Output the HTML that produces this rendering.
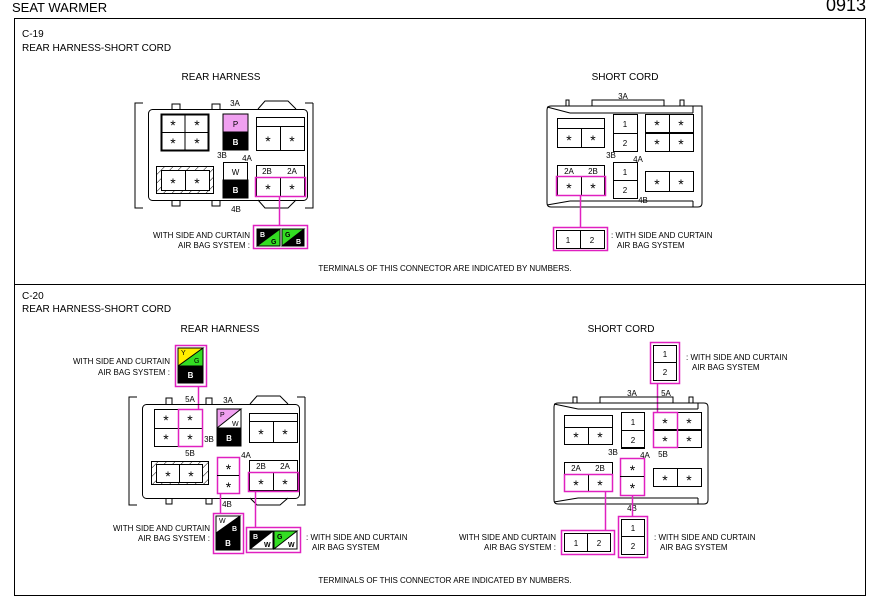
<!DOCTYPE html>
<html><head><meta charset="utf-8"><style>
html,body{margin:0;padding:0;background:#fff;}
svg{display:block;font-family:"Liberation Sans",sans-serif;fill:none;stroke:#000;stroke-width:1;}
text{fill:#000;stroke:none;}
.s{font-size:8px;}
.t{font-size:10px;}
.a{font-size:14px;text-anchor:middle;}
.c{text-anchor:middle;}
.e{text-anchor:end;}
.pk{stroke:#e020c0;stroke-width:1.5;fill:none;}
.bk{fill:#000;}
text.wt{fill:#fff;font-weight:bold;}
</style></head><body>
<svg width="874" height="598" viewBox="0 0 874 598" xmlns="http://www.w3.org/2000/svg">
<defs><pattern id="h" width="6" height="6" patternUnits="userSpaceOnUse" patternTransform="rotate(45)"><line x1="0" y1="0" x2="0" y2="6" stroke="#000" stroke-width="1"/></pattern></defs>
<text x="12" y="12" style="font-size:13px">SEAT WARMER</text>
<text x="866" y="11" style="font-size:18px" class="e">0913</text>
<rect x="14.5" y="18.5" width="851" height="577"/>
<line x1="14" y1="284.5" x2="866" y2="284.5"/>

<!-- C-19 -->
<text x="22" y="37" class="t">C-19</text>
<text x="22" y="51" class="t">REAR HARNESS-SHORT CORD</text>
<text x="221" y="80" class="t c">REAR HARNESS</text>
<text x="625" y="80" class="t c">SHORT CORD</text>

<polyline points="143,103 135,103 135,208 143,208"/>
<polyline points="313,103 305,103"/><polyline points="305,208 313,208 313,103"/>
<polyline points="172,109 172,104 180,104 180,109"/><polyline points="212,109 212,104 220,104 220,109"/>
<polyline points="258,109 265,101 288,101 296,109"/>
<polyline points="172,200 172,206 180,206 180,200"/><polyline points="212,200 212,206 220,206 220,200"/>
<polyline points="258,200 265,208 288,208 296,200"/>
<rect x="148.5" y="109.5" width="159" height="91" rx="4"/>
<rect x="161.5" y="114.5" width="47" height="36" stroke-width="2"/><line x1="185" y1="115" x2="185" y2="150"/><line x1="162" y1="132.5" x2="208" y2="132.5"/>
<text x="173" y="130" class="a">*</text><text x="197" y="130" class="a">*</text><text x="173" y="148" class="a">*</text><text x="197" y="148" class="a">*</text>
<rect x="223" y="114" width="25" height="18" fill="#f0a0f0" stroke="#000"/><rect x="223" y="132" width="25" height="18" class="bk"/>
<text x="235.5" y="127" class="s c">P</text><text x="235.5" y="145" class="s c wt">B</text>
<rect x="256.5" y="117.5" width="48" height="33"/><line x1="256" y1="126.5" x2="304" y2="126.5"/><line x1="280.5" y1="126" x2="280.5" y2="150"/>
<text x="268" y="146" class="a">*</text><text x="292" y="146" class="a">*</text>
<rect x="156.5" y="166.5" width="57" height="27" fill="url(#h)"/>
<rect x="161.5" y="170.5" width="48" height="20" fill="#fff"/><line x1="185.5" y1="170" x2="185.5" y2="190"/>
<text x="173" y="188" class="a">*</text><text x="197" y="188" class="a">*</text>
<rect x="223.5" y="162.5" width="24" height="18"/><rect x="223" y="180" width="25" height="18" class="bk"/>
<text x="235.5" y="175" class="s c">W</text><text x="235.5" y="193" class="s c wt">B</text>
<rect x="256.5" y="165.5" width="48" height="31"/><line x1="256" y1="177.5" x2="304" y2="177.5"/><line x1="280.5" y1="177" x2="280.5" y2="196"/>
<text x="267" y="174" class="s c">2B</text><text x="292" y="174" class="s c">2A</text>
<text x="268" y="194" class="a">*</text><text x="292" y="194" class="a">*</text>
<rect x="255.5" y="177.5" width="50" height="19" class="pk"/>
<text x="235" y="106" class="s c">3A</text><text x="222" y="158" class="s c">3B</text><text x="247" y="161" class="s c">4A</text><text x="236" y="212" class="s c">4B</text>
<line x1="279.5" y1="197" x2="279.5" y2="226" class="pk"/>
<rect x="253.5" y="225.5" width="54" height="23" class="pk"/>
<rect x="257" y="229" width="23" height="17" fill="#33dd22" stroke="#000"/><path d="M257,246 L257,229 L280,229 Z" fill="#000"/>
<rect x="282" y="229" width="22" height="17" fill="#000" stroke="#000"/><path d="M282,246 L282,229 L304,229 Z" fill="#33dd22"/>
<text x="260" y="237" class="s wt" style="font-size:7px">B</text><text x="271" y="244" class="s" style="font-size:7px;font-weight:bold">G</text>
<text x="285" y="237" class="s" style="font-size:7px;font-weight:bold">G</text><text x="296" y="244" class="s wt" style="font-size:7px">B</text>
<text x="250" y="238" class="s e">WITH SIDE AND CURTAIN</text><text x="250" y="248" class="s e">AIR BAG SYSTEM :</text>

<path d="M551,106 L702,106 L702,203 Q702,207 698,207 L551,207 Q547,207 547,203 L547,110 Q547,106 551,106"/>
<line x1="547" y1="107" x2="570" y2="113"/><line x1="570" y1="113" x2="693" y2="113"/><line x1="693" y1="106" x2="693" y2="113"/>
<line x1="547" y1="205" x2="570" y2="201"/><line x1="570" y1="201" x2="693" y2="201"/><line x1="693" y1="201" x2="693" y2="207"/>
<polyline points="566,106 566,100 569,100 569,106"/><polyline points="680,106 680,100 684,100 684,106"/>
<polyline points="592,106 592,100 664,100 664,106"/>
<rect x="557.5" y="118.5" width="47" height="29"/><line x1="557" y1="128.5" x2="604" y2="128.5"/><line x1="581.5" y1="128" x2="581.5" y2="147"/>
<text x="569" y="145" class="a">*</text><text x="593" y="145" class="a">*</text>
<rect x="613.5" y="114.5" width="24" height="37"/><line x1="613" y1="133.5" x2="637" y2="133.5"/>
<text x="625" y="127" class="s c">1</text><text x="625" y="146" class="s c">2</text>
<rect x="645.5" y="114.5" width="48" height="37"/><line x1="669.5" y1="114" x2="669.5" y2="151"/><line x1="645" y1="133" x2="693" y2="133" stroke-width="2"/>
<text x="657" y="130" class="a">*</text><text x="681" y="130" class="a">*</text><text x="657" y="149" class="a">*</text><text x="681" y="149" class="a">*</text>
<rect x="557.5" y="165.5" width="47" height="30"/><line x1="557" y1="176.5" x2="604" y2="176.5"/><line x1="581.5" y1="176" x2="581.5" y2="195"/>
<text x="569" y="174" class="s c">2A</text><text x="593" y="174" class="s c">2B</text>
<text x="569" y="193" class="a">*</text><text x="593" y="193" class="a">*</text>
<rect x="556.5" y="176.5" width="49" height="19" class="pk"/>
<rect x="613.5" y="162.5" width="24" height="36"/><line x1="613" y1="180.5" x2="637" y2="180.5"/>
<text x="625" y="175" class="s c">1</text><text x="625" y="193" class="s c">2</text>
<rect x="645.5" y="171.5" width="48" height="20"/><line x1="669.5" y1="171" x2="669.5" y2="191"/>
<text x="657" y="189" class="a">*</text><text x="681" y="189" class="a">*</text>
<text x="623" y="99" class="s c">3A</text><text x="611" y="158" class="s c">3B</text><text x="638" y="162" class="s c">4A</text><text x="643" y="203" class="s c">4B</text>
<line x1="580.5" y1="196" x2="580.5" y2="227" class="pk"/>
<rect x="553.5" y="227.5" width="54" height="23" class="pk"/>
<rect x="556.5" y="230.5" width="48" height="18"/><line x1="580.5" y1="230" x2="580.5" y2="248"/>
<text x="568" y="243" class="s c">1</text><text x="592" y="243" class="s c">2</text>
<text x="611" y="238" class="s">: WITH SIDE AND CURTAIN</text><text x="617" y="248" class="s">AIR BAG SYSTEM</text>
<text x="445" y="271" class="s c">TERMINALS OF THIS CONNECTOR ARE INDICATED BY NUMBERS.</text>

<!-- C-20 -->
<text x="22" y="299" class="t">C-20</text>
<text x="22" y="312" class="t">REAR HARNESS-SHORT CORD</text>
<text x="220" y="332" class="t c">REAR HARNESS</text>
<text x="621" y="332" class="t c">SHORT CORD</text>

<rect x="175.5" y="345.5" width="31" height="41" class="pk"/>
<rect x="178" y="348" width="25" height="18" fill="#33dd22" stroke="#000"/><path d="M178,366 L178,348 L203,348 Z" fill="#ffee00"/>
<rect x="178" y="366" width="25" height="17" class="bk"/>
<text x="181" y="355" class="s" style="font-size:7px">Y</text><text x="194" y="363" class="s" style="font-size:7px">G</text><text x="190.5" y="378" class="s c wt">B</text>
<text x="170" y="364" class="s e">WITH SIDE AND CURTAIN</text><text x="170" y="375" class="s e">AIR BAG SYSTEM :</text>
<line x1="198.5" y1="387" x2="198.5" y2="410" class="pk"/>
<polyline points="137,397 129,397 129,505 137,505"/>
<polyline points="305,397 305,505 297,505"/><line x1="297" y1="397" x2="305" y2="397"/>
<polyline points="166,404 166,398 172,398 172,404"/><polyline points="206,404 206,398 212,398 212,404"/>
<polyline points="250,404 257,396 280,396 288,404"/>
<polyline points="166,498 166,504 172,504 172,498"/><polyline points="206,498 206,504 212,504 212,498"/>
<polyline points="250,498 257,505 280,505 288,498"/>
<rect x="142.5" y="404.5" width="157" height="94" rx="4"/>
<rect x="154.5" y="409.5" width="48" height="37"/><line x1="178.5" y1="409" x2="178.5" y2="446"/><line x1="154" y1="428.5" x2="202" y2="428.5"/>
<text x="166" y="425" class="a">*</text><text x="190" y="425" class="a">*</text><text x="166" y="444" class="a">*</text><text x="190" y="444" class="a">*</text>
<rect x="178.5" y="409.5" width="24" height="37" class="pk"/>
<rect x="217" y="409" width="24" height="19" fill="#fff" stroke="#000"/><path d="M217,428 L217,409 L241,409 Z" fill="#f0a0f0"/>
<rect x="217" y="428" width="24" height="18" class="bk"/>
<text x="220" y="417" class="s" style="font-size:7px">P</text><text x="232" y="426" class="s" style="font-size:7px">W</text><text x="229" y="441" class="s c wt">B</text>
<rect x="249.5" y="413.5" width="48" height="29"/><line x1="249" y1="421.5" x2="297" y2="421.5"/><line x1="273.5" y1="421" x2="273.5" y2="442"/>
<text x="261" y="439" class="a">*</text><text x="285" y="439" class="a">*</text>
<rect x="151.5" y="461.5" width="57" height="23" fill="url(#h)"/>
<rect x="156.5" y="464.5" width="46" height="18" fill="#fff"/><line x1="179.5" y1="464" x2="179.5" y2="482"/>
<text x="168" y="481" class="a">*</text><text x="191" y="481" class="a">*</text>
<rect x="217.5" y="457.5" width="22" height="36" class="pk"/><line x1="217" y1="475.5" x2="239" y2="475.5"/>
<text x="228.5" y="474" class="a">*</text><text x="228.5" y="492" class="a">*</text>
<rect x="249.5" y="460.5" width="48" height="30"/><line x1="249" y1="472.5" x2="297" y2="472.5"/><line x1="273.5" y1="472" x2="273.5" y2="491"/>
<text x="261" y="469" class="s c">2B</text><text x="285" y="469" class="s c">2A</text>
<text x="261" y="489" class="a">*</text><text x="285" y="489" class="a">*</text>
<rect x="248.5" y="472.5" width="50" height="19" class="pk"/>
<text x="190" y="402" class="s c">5A</text><text x="228" y="403" class="s c">3A</text><text x="190" y="456" class="s c">5B</text><text x="209" y="442" class="s c">3B</text><text x="246" y="458" class="s c">4A</text><text x="227" y="507" class="s c">4B</text>
<line x1="220.5" y1="494" x2="220.5" y2="513" class="pk"/>
<rect x="213.5" y="513.5" width="30" height="40" class="pk"/>
<rect x="216" y="516" width="24" height="17" fill="#000" stroke="#000"/><path d="M216,533 L216,516 L240,516 Z" fill="#fff"/>
<rect x="216" y="533" width="24" height="17" class="bk"/>
<text x="219" y="523" class="s" style="font-size:7px">W</text><text x="232" y="531" class="s wt" style="font-size:7px">B</text><text x="228" y="546" class="s c wt">B</text>
<text x="210" y="531" class="s e">WITH SIDE AND CURTAIN</text><text x="210" y="541" class="s e">AIR BAG SYSTEM :</text>
<line x1="255.5" y1="492" x2="255.5" y2="527" class="pk"/>
<rect x="246.5" y="527.5" width="54" height="25" class="pk"/>
<rect x="250" y="531" width="23" height="18" fill="#fff" stroke="#000"/><path d="M250,549 L250,531 L273,531 Z" fill="#000"/>
<rect x="274" y="531" width="23" height="18" fill="#fff" stroke="#000"/><path d="M274,549 L274,531 L297,531 Z" fill="#33dd22"/>
<text x="253" y="539" class="s wt" style="font-size:7px">B</text><text x="264" y="547" class="s" style="font-size:7px;font-weight:bold">W</text>
<text x="277" y="539" class="s" style="font-size:7px;font-weight:bold">G</text><text x="288" y="547" class="s" style="font-size:7px;font-weight:bold">W</text>
<text x="306" y="540" class="s">: WITH SIDE AND CURTAIN</text><text x="312" y="550" class="s">AIR BAG SYSTEM</text>

<rect x="650.5" y="342.5" width="29" height="41" class="pk"/>
<rect x="653.5" y="345.5" width="23" height="35"/><line x1="653" y1="362.5" x2="676" y2="362.5"/>
<text x="665" y="357" class="s c">1</text><text x="665" y="375" class="s c">2</text>
<text x="686" y="360" class="s">: WITH SIDE AND CURTAIN</text><text x="692" y="370" class="s">AIR BAG SYSTEM</text>
<line x1="657.5" y1="384" x2="657.5" y2="412" class="pk"/>
<path d="M558,403 L704,403 Q708,403 708,407 L708,500 Q708,504 704,504 L558,504 Q554,504 554,500 L554,407 Q554,403 558,403"/>
<line x1="554" y1="404" x2="578" y2="409"/><line x1="578" y1="409" x2="698" y2="409"/><line x1="698" y1="403" x2="698" y2="409"/>
<line x1="554" y1="502" x2="578" y2="498"/><line x1="578" y1="498" x2="698" y2="498"/><line x1="698" y1="498" x2="698" y2="504"/>
<polyline points="573,403 573,397 577,397 577,403"/><polyline points="689,403 689,397 693,397 693,403"/>
<polyline points="600,403 600,397 673,397 673,403"/>
<rect x="564.5" y="415.5" width="48" height="29"/><line x1="564" y1="427.5" x2="612" y2="427.5"/><line x1="588.5" y1="427" x2="588.5" y2="444"/>
<text x="576" y="442" class="a">*</text><text x="600" y="442" class="a">*</text>
<rect x="621.5" y="412.5" width="23" height="36"/><line x1="621" y1="430.5" x2="644" y2="430.5"/><line x1="621" y1="448" x2="644" y2="448" stroke-width="2"/>
<text x="633" y="425" class="s c">1</text><text x="633" y="443" class="s c">2</text>
<rect x="653.5" y="412.5" width="48" height="35"/><line x1="677.5" y1="412" x2="677.5" y2="447"/><line x1="653" y1="430" x2="701" y2="430" stroke-width="2"/>
<text x="665" y="428" class="a">*</text><text x="689" y="428" class="a">*</text><text x="665" y="446" class="a">*</text><text x="689" y="446" class="a">*</text>
<rect x="653.5" y="412.5" width="24" height="35" class="pk"/>
<rect x="564.5" y="462.5" width="48" height="29"/><line x1="564" y1="474.5" x2="612" y2="474.5"/><line x1="588.5" y1="474" x2="588.5" y2="491"/>
<text x="576" y="471" class="s c">2A</text><text x="600" y="471" class="s c">2B</text>
<text x="576" y="490" class="a">*</text><text x="600" y="490" class="a">*</text>
<rect x="564.5" y="474.5" width="48" height="17" class="pk"/>
<rect x="620.5" y="458.5" width="24" height="37" class="pk"/><line x1="620" y1="476.5" x2="644" y2="476.5"/>
<text x="632.5" y="475" class="a">*</text><text x="632.5" y="493" class="a">*</text>
<rect x="653.5" y="468.5" width="48" height="18"/><line x1="677.5" y1="468" x2="677.5" y2="486"/>
<text x="665" y="485" class="a">*</text><text x="689" y="485" class="a">*</text>
<text x="632" y="396" class="s c">3A</text><text x="666" y="396" class="s c">5A</text>
<text x="613" y="455" class="s c">3B</text><text x="645" y="458" class="s c">4A</text><text x="663" y="457" class="s c">5B</text><text x="632" y="511" class="s c">4B</text>
<line x1="605.5" y1="492" x2="605.5" y2="530" class="pk"/>
<rect x="561.5" y="530.5" width="53" height="24" class="pk"/>
<rect x="564.5" y="533.5" width="46" height="18"/><line x1="587.5" y1="533" x2="587.5" y2="551"/>
<text x="576" y="546" class="s c">1</text><text x="599" y="546" class="s c">2</text>
<text x="556" y="540" class="s e">WITH SIDE AND CURTAIN</text><text x="556" y="550" class="s e">AIR BAG SYSTEM :</text>
<line x1="632.5" y1="496" x2="632.5" y2="516" class="pk"/>
<rect x="618.5" y="516.5" width="29" height="41" class="pk"/>
<rect x="621.5" y="519.5" width="23" height="35"/><line x1="621" y1="536.5" x2="644" y2="536.5"/>
<text x="633" y="531" class="s c">1</text><text x="633" y="549" class="s c">2</text>
<text x="654" y="540" class="s">: WITH SIDE AND CURTAIN</text><text x="660" y="550" class="s">AIR BAG SYSTEM</text>
<text x="445" y="583" class="s c">TERMINALS OF THIS CONNECTOR ARE INDICATED BY NUMBERS.</text>
</svg>
</body></html>
